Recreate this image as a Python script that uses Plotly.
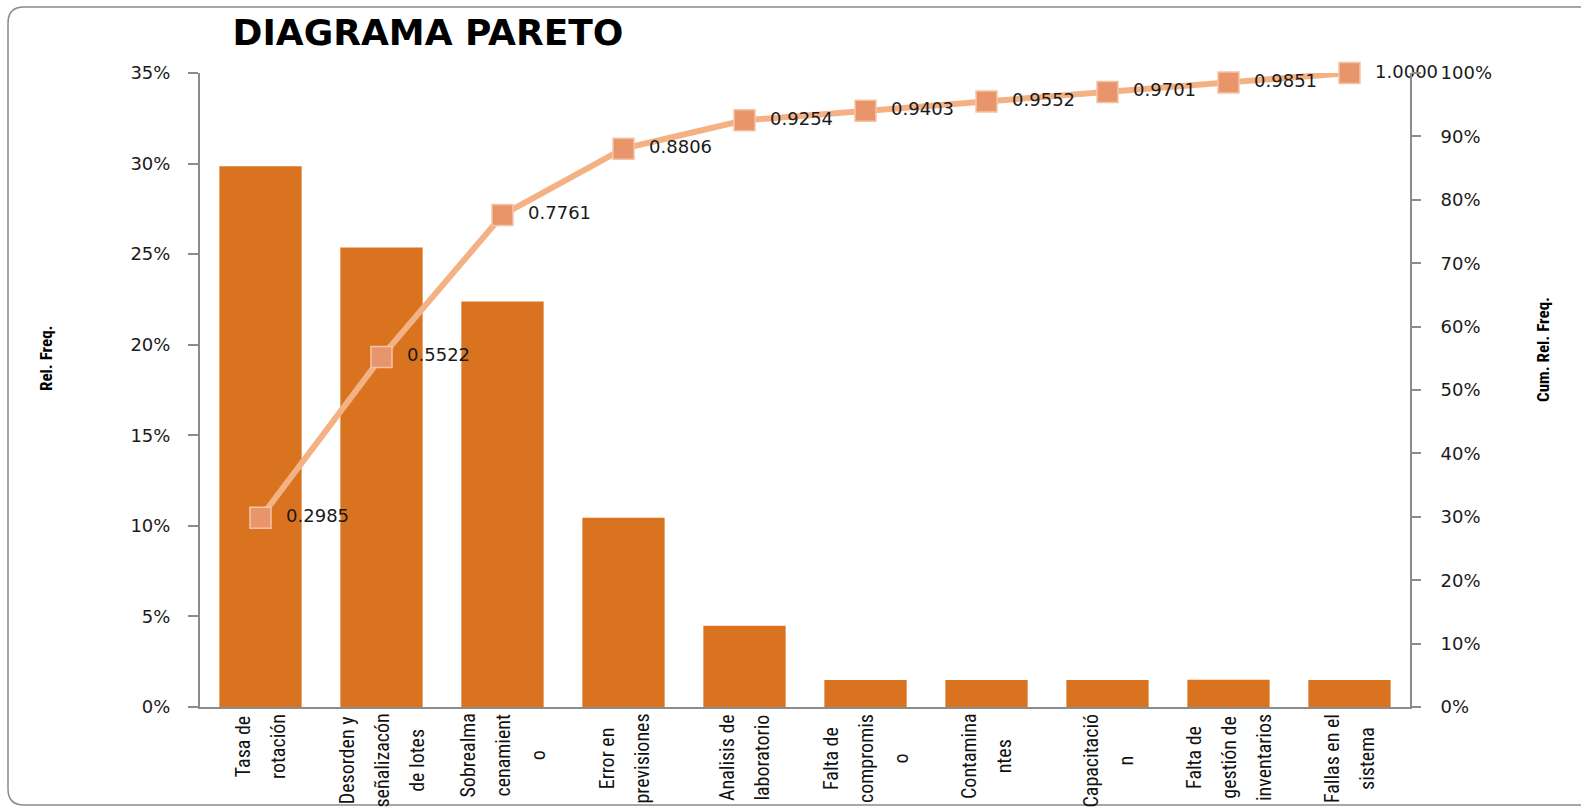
import plotly.graph_objects as go

# Pareto data: relative frequency per cause and running cumulative share
category_lines = [
    ["Tasa de", "rotación"],
    ["Desorden y", "señalizacón", "de lotes"],
    ["Sobrealma", "cenamient", "o"],
    ["Error en", "previsiones"],
    ["Analisis de", "laboratorio"],
    ["Falta de", "compromis", "o"],
    ["Contamina", "ntes"],
    ["Capacitació", "n"],
    ["Falta de", "gestión de", "inventarios"],
    ["Fallas en el", "sistema"],
]
rel_freq = [0.2985, 0.2537, 0.2239, 0.1045, 0.0448, 0.0149, 0.0149, 0.0149, 0.0150, 0.0149]
cum_rel_freq = [0.2985, 0.5522, 0.7761, 0.8806, 0.9254, 0.9403, 0.9552, 0.9701, 0.9851, 1.0000]
left_ticks = [0, 0.05, 0.10, 0.15, 0.20, 0.25, 0.30, 0.35]
right_ticks = [0, 0.1, 0.2, 0.3, 0.4, 0.5, 0.6, 0.7, 0.8, 0.9, 1.0]

W, H = 1581, 808
ML, MR, MT, MB = 200, 171, 73, 101
PW, PH = W - ML - MR, H - MT - MB

AXIS_GREY = "#8c8c8c"
TICK_FONT = dict(family="DejaVu Sans", size=18, color="#1a1a1a")
NARROW = "Liberation Sans Narrow, Arial Narrow, Roboto Condensed, sans-serif"

x_idx = list(range(len(category_lines)))

fig = go.Figure()

fig.add_trace(go.Bar(
    x=x_idx, y=rel_freq,
    marker=dict(color="#D9731F", line=dict(width=0)),
    width=0.68,
    yaxis="y",
    hoverinfo="y",
))

fig.add_trace(go.Scatter(
    x=x_idx, y=cum_rel_freq,
    mode="lines+markers+text",
    line=dict(color="#F4B183", width=6),
    marker=dict(symbol="square", size=21, color="#E8956C",
                line=dict(color="#F7C3A6", width=1.5)),
    text=["  " + f"{v:.4f}" for v in cum_rel_freq],
    textposition="middle right",
    textfont=dict(family="DejaVu Sans", size=18, color="#1a1a1a"),
    yaxis="y2",
    cliponaxis=False,
))


def px_to_paper(px, py):
    return (px - ML) / PW, (H - MB - py) / PH


# Rounded chart frame (the right side runs past the page edge)
x0, y0 = px_to_paper(8, 7)
x1, y1 = px_to_paper(1600, 805)
rx, ry = 16 / PW, 16 / PH
frame_path = (
    f"M {x0 + rx},{y0} L {x1 - rx},{y0} Q {x1},{y0} {x1},{y0 - ry} "
    f"L {x1},{y1 + ry} Q {x1},{y1} {x1 - rx},{y1} "
    f"L {x0 + rx},{y1} Q {x0},{y1} {x0},{y1 + ry} "
    f"L {x0},{y0 - ry} Q {x0},{y0} {x0 + rx},{y0} Z"
)

annotations = []
# Category labels, rotated with centred lines; the outer font size sets the
# line pitch while the inner span sets the glyph size.
for i, lines in enumerate(category_lines):
    label = "<br>".join(f'<span style="font-size:20px">{ln}</span>' for ln in lines)
    annotations.append(dict(
        x=i, y=0, xref="x", yref="paper", yshift=-5,
        text=label, textangle=-90, showarrow=False,
        xanchor="center", yanchor="top", align="center",
        font=dict(family=NARROW, size=27, color="#111111"),
    ))

ax, ay = px_to_paper(46, 358)
annotations.append(dict(
    x=ax, y=ay, xref="paper", yref="paper", text="<b>Rel. Freq.</b>",
    textangle=-90, showarrow=False, xanchor="center", yanchor="middle",
    font=dict(family=NARROW, size=17, color="#000000"),
))
bx, by = px_to_paper(1543, 350)
annotations.append(dict(
    x=bx, y=by, xref="paper", yref="paper", text="<b>Cum. Rel. Freq.</b>",
    textangle=-90, showarrow=False, xanchor="center", yanchor="middle",
    font=dict(family=NARROW, size=17, color="#000000"),
))

tx, _ = px_to_paper(428, 0)
fig.update_layout(
    width=W, height=H,
    margin=dict(l=ML, r=MR, t=MT, b=MB, pad=0),
    paper_bgcolor="white", plot_bgcolor="white",
    showlegend=False,
    bargap=0.32,
    title=dict(
        text="<b>DIAGRAMA PARETO</b>",
        x=tx, xref="paper", xanchor="center",
        y=1 - 32 / H, yref="container", yanchor="middle",
        font=dict(family="DejaVu Sans", size=36, color="#000000"),
    ),
    xaxis=dict(
        range=[-0.5, len(category_lines) - 0.5],
        showticklabels=False, ticks="",
        showgrid=False, zeroline=False,
        showline=True, linecolor=AXIS_GREY, linewidth=2,
        fixedrange=True,
    ),
    yaxis=dict(
        range=[0, 0.35], tickvals=left_ticks, tickformat=".0%",
        ticks="outside", ticklen=10, tickcolor=AXIS_GREY, tickwidth=1.5,
        showline=True, linecolor=AXIS_GREY, linewidth=2,
        showgrid=False, zeroline=False,
        tickfont=TICK_FONT, ticklabelstandoff=14,
    ),
    yaxis2=dict(
        range=[0, 1], tickvals=right_ticks, tickformat=".0%",
        overlaying="y", side="right",
        ticks="outside", ticklen=9, tickcolor=AXIS_GREY, tickwidth=1.5,
        showline=True, linecolor=AXIS_GREY, linewidth=2,
        showgrid=False, zeroline=False,
        tickfont=TICK_FONT, ticklabelstandoff=16,
    ),
    shapes=[dict(
        type="path", path=frame_path, xref="paper", yref="paper",
        line=dict(color="#8a8a8a", width=1.5), fillcolor="rgba(0,0,0,0)",
        layer="below",
    )],
    annotations=annotations,
)

fig.write_html("out.html")
